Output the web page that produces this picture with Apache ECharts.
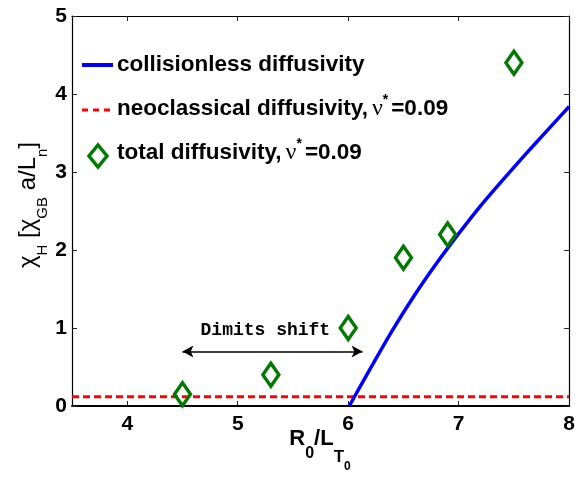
<!DOCTYPE html>
<html>
<head>
<meta charset="utf-8">
<script src="https://cdn.jsdelivr.net/npm/echarts@6/dist/echarts.min.js"></script>
<style>
  html, body { margin: 0; padding: 0; background: #fff; }
  #chart { width: 578px; height: 478px; }
</style>
</head>
<body>
<div id="chart"></div>
<script>
// Axis ticks
const xTicks = [4, 5, 6, 7, 8];
const yTicks = [0, 1, 2, 3, 4, 5];

// Collisionless diffusivity (solid blue curve)
const collisionlessX = [6.01, 6.2, 6.4, 6.6, 6.8, 7.0, 7.2, 7.4, 7.6, 7.8, 8.0];
const collisionlessY = [0, 0.48, 0.97, 1.42, 1.83, 2.21, 2.57, 2.9, 3.22, 3.53, 3.84];

// Neoclassical diffusivity, nu* = 0.09 (flat dashed red level)
const neoclassicalX = [3.5, 8];
const neoclassicalY = [0.12, 0.12];

// Total diffusivity, nu* = 0.09 (open diamonds)
const totalX = [4.5, 5.3, 6.0, 6.5, 6.9, 7.5];
const totalY = [0.15, 0.4, 1.0, 1.9, 2.2, 4.4];

// Dimits shift annotation (arrow ends and label anchor, in data units)
const shiftFrom = [4.5, 0.7];
const shiftTo = [6.13, 0.7];
const shiftLabelAt = [5.25, 0.97];

const zip = (xs, ys) => xs.map((x, i) => [x, ys[i]]);

const SANS = 'Liberation Sans';
const SERIF = 'Liberation Serif';
const MONO = 'Liberation Mono';

const BLUE = '#0000ff';
const RED = '#ff0000';
const GREEN = '#007a00';

const tickLabel = { fontFamily: SANS, fontWeight: 'bold', fontSize: 21, color: '#000' };

// Rich styles for legend entries
const legendRich = {
  m: { fontFamily: SANS, fontWeight: 'bold', fontSize: 22.5, lineHeight: 26, verticalAlign: 'top', padding: [4, 0, 0, 0] },
  nu: { fontFamily: SERIF, fontWeight: 'normal', fontSize: 24, lineHeight: 26, verticalAlign: 'top', padding: [4, 0, 0, 4] },
  sup: { fontFamily: SANS, fontWeight: 'bold', fontSize: 14, lineHeight: 14, verticalAlign: 'top', padding: [0, 3, 0, 0] }
};

function legendText(x, capCenterY, text) {
  return {
    type: 'text', x: x, y: capCenterY - 17,
    style: { text: text, rich: legendRich, fill: '#000', align: 'left', verticalAlign: 'top' }
  };
}

function diamondPoints(cx, cy, hw, hh) {
  return [[cx, cy - hh], [cx + hw, cy], [cx, cy + hh], [cx - hw, cy]];
}

const chart = echarts.init(document.getElementById('chart'), null, { renderer: 'canvas' });

const axisLineStyle = { color: '#000', width: 1.2 };
const tickStyle = { color: '#222', width: 1 };

chart.setOption({
  animation: false,
  backgroundColor: '#fff',
  grid: { left: 72, right: 8, top: 16, bottom: 72, containLabel: false },
  xAxis: [
    {
      type: 'value', min: 3.5, max: 8, position: 'bottom',
      axisLine: { show: true, onZero: false, lineStyle: { color: '#000', width: 2 } },
      axisTick: { show: true, inside: true, length: 5, lineStyle: tickStyle, customValues: xTicks },
      axisLabel: Object.assign({ margin: 8, customValues: xTicks }, tickLabel),
      splitLine: { show: false }
    },
    {
      type: 'value', min: 3.5, max: 8, position: 'top',
      axisLine: { show: true, onZero: false, lineStyle: axisLineStyle },
      axisTick: { show: true, inside: true, length: 5, lineStyle: tickStyle, customValues: xTicks },
      axisLabel: { show: false },
      splitLine: { show: false }
    }
  ],
  yAxis: [
    {
      type: 'value', min: 0, max: 5, interval: 1, position: 'left',
      axisLine: { show: true, onZero: false, lineStyle: axisLineStyle },
      axisTick: { show: true, inside: true, length: 5, lineStyle: tickStyle, customValues: yTicks },
      axisLabel: Object.assign({ margin: 5, customValues: yTicks }, tickLabel),
      splitLine: { show: false }
    },
    {
      type: 'value', min: 0, max: 5, interval: 1, position: 'right',
      axisLine: { show: true, onZero: false, lineStyle: axisLineStyle },
      axisTick: { show: true, inside: true, length: 5, lineStyle: tickStyle, customValues: yTicks },
      axisLabel: { show: false },
      splitLine: { show: false }
    }
  ],
  series: [
    {
      name: 'neoclassical diffusivity',
      type: 'line',
      data: zip(neoclassicalX, neoclassicalY),
      symbol: 'none',
      lineStyle: { color: RED, width: 3, type: [7, 4] },
      z: 2,
      silent: true,
      markLine: {
        silent: true,
        symbol: ['arrow', 'arrow'],
        symbolSize: [9, 11],
        label: { show: false },
        lineStyle: { color: '#000', width: 1.5, type: 'solid' },
        emphasis: { disabled: true },
        data: [[{ coord: shiftFrom }, { coord: shiftTo }]]
      },
      markPoint: {
        silent: true,
        symbol: 'circle',
        symbolSize: 1,
        itemStyle: { color: 'rgba(0,0,0,0)' },
        label: {
          show: true, position: 'inside', formatter: 'Dimits shift',
          fontFamily: MONO, fontWeight: 'bold', fontSize: 18, color: '#000'
        },
        data: [{ coord: shiftLabelAt }]
      }
    },
    {
      name: 'collisionless diffusivity',
      type: 'line',
      data: zip(collisionlessX, collisionlessY),
      symbol: 'none',
      smooth: 0.2,
      lineStyle: { color: BLUE, width: 3.5 },
      z: 3,
      silent: true
    },
    {
      name: 'total diffusivity',
      type: 'scatter',
      data: zip(totalX, totalY),
      symbol: 'diamond',
      symbolSize: [16, 23],
      itemStyle: { color: 'rgba(0,0,0,0)', borderColor: GREEN, borderWidth: 3.5, opacity: 1 },
      emphasis: { disabled: true },
      z: 4,
      silent: true
    }
  ],
  graphic: [
    // legend samples
    { type: 'line', shape: { x1: 82, y1: 65, x2: 113, y2: 65 }, style: { stroke: BLUE, lineWidth: 4 } },
    { type: 'line', shape: { x1: 82, y1: 110, x2: 113, y2: 110 }, style: { stroke: RED, lineWidth: 3, lineDash: [6, 5] } },
    { type: 'polygon', shape: { points: diamondPoints(98, 156, 9, 11) }, style: { fill: 'none', stroke: GREEN, lineWidth: 3.5 } },
    legendText(117, 66, '{m|collisionless diffusivity}'),
    legendText(117, 110, '{m|neoclassical diffusivity,}{nu|ν}{sup|*}{m|=0.09}'),
    legendText(117, 154, '{m|total diffusivity,}{nu|ν}{sup|*}{m|=0.09}'),
    // y-axis title
    {
      type: 'text', x: 16, y: 205, rotation: Math.PI / 2,
      style: {
        text: '{m|χ}{s|H}{m| [χ}{s|GB}{m| a/L}{s|n}{m|]}',
        align: 'center', verticalAlign: 'top', fill: '#000',
        rich: {
          m: { fontFamily: SANS, fontSize: 24, lineHeight: 26, verticalAlign: 'top' },
          s: { fontFamily: SANS, fontSize: 15, lineHeight: 16, verticalAlign: 'top', padding: [19, 0, 0, 0] }
        }
      }
    },
    // x-axis title
    {
      type: 'text', x: 320, y: 428,
      style: {
        text: '{m|R}{s|0}{m|/L}{t|T}{u|0}',
        align: 'center', verticalAlign: 'top', fill: '#000',
        rich: {
          m: { fontFamily: SANS, fontWeight: 'bold', fontSize: 22, lineHeight: 24, verticalAlign: 'top' },
          s: { fontFamily: SANS, fontWeight: 'bold', fontSize: 16, lineHeight: 16, verticalAlign: 'top', padding: [18, 0, 0, 0] },
          t: { fontFamily: SANS, fontWeight: 'bold', fontSize: 17, lineHeight: 18, verticalAlign: 'top', padding: [21, 0, 0, 0] },
          u: { fontFamily: SANS, fontWeight: 'bold', fontSize: 12, lineHeight: 12, verticalAlign: 'top', padding: [33, 0, 0, 0] }
        }
      }
    }
  ]
});
</script>
</body>
</html>
